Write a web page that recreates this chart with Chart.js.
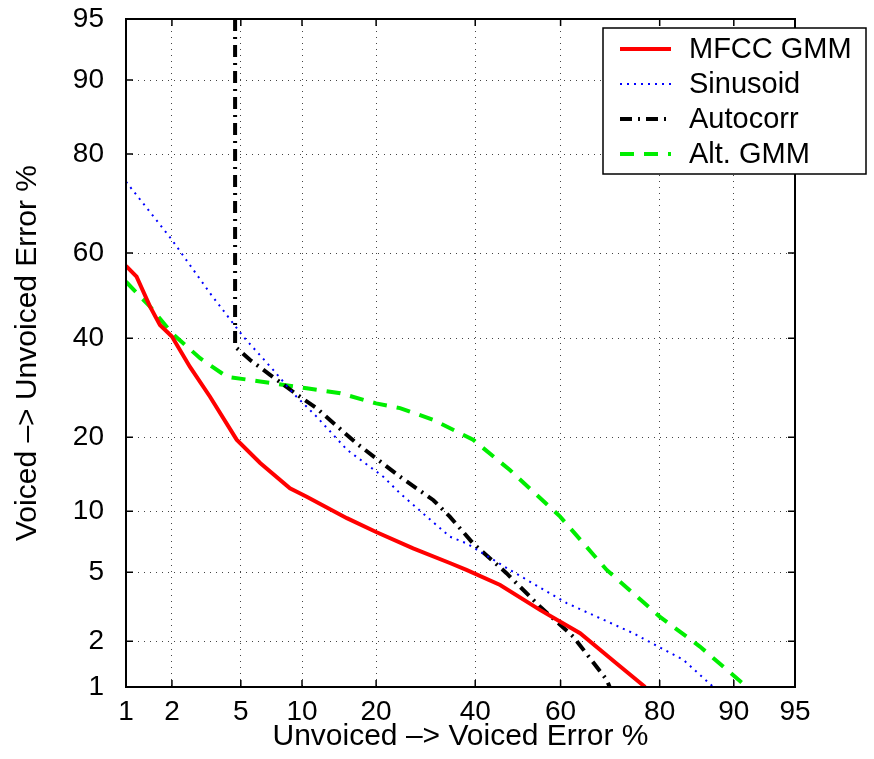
<!DOCTYPE html>
<html>
<head>
<meta charset="utf-8">
<script src="https://cdn.jsdelivr.net/npm/chart.js@4.4.1/dist/chart.umd.min.js"></script>
<style>
  body { margin: 0; background: #fff; }
  canvas { display: block; }
</style>
</head>
<body>
<canvas id="myChart" width="874" height="759"></canvas>
<script>
// error rates in percent (x: unvoiced -> voiced, y: voiced -> unvoiced)
const tickPcts = [1, 2, 5, 10, 20, 40, 60, 80, 90, 95];
const tickLabels = ["1", "2", "5", "10", "20", "40", "60", "80", "90", "95"];

const seriesNames = ["MFCC GMM", "Sinusoid", "Autocorr", "Alt. GMM"];

const mfccX = [1, 1.18, 1.45, 1.68, 2.0, 2.58, 3.38, 4.75, 6.3, 8.8, 10.5, 15.5, 20, 26.7, 34.3, 38, 45.8, 55.2, 64.4, 72.1, 77.5];
const mfccY = [57, 54.5, 47.4, 43.1, 40.4, 33.6, 27.4, 19.6, 16, 12.6, 11.6, 9.3, 8.0, 6.65, 5.6, 5.15, 4.27, 3.09, 2.24, 1.44, 1.0];

const sinX = [1, 2, 3.38, 5.15, 7.3, 9.1, 11.6, 15.5, 21.2, 24.2, 34.3, 38, 48.1, 61.4, 75.3, 83.7, 87.7];
const sinY = [75.1, 63, 50.6, 40.4, 33, 28.1, 23.6, 18, 14.1, 12, 7.6, 7.05, 5.15, 3.38, 2.24, 1.52, 1];

const autoX = [4.66, 4.66, 5.6, 7.06, 9.5, 11.6, 16.9, 24.2, 30.8, 34.3, 39.5, 47.3, 55.2, 62.9, 70.1, 70.7];
const autoY = [95, 38.1, 35.1, 31.9, 27.8, 25.2, 19, 14.1, 11.2, 9.45, 7.05, 4.95, 3.23, 2.13, 1.12, 1];

const altX = [1, 1.45, 2, 2.96, 4.2, 6.3, 10.5, 14.6, 20, 24.2, 30.8, 39.5, 48.1, 59.9, 70.1, 80, 86, 91.3];
const altY = [53.3, 47.4, 41.2, 35.5, 31.5, 30.5, 29.1, 28.1, 26.1, 25.2, 23, 19.6, 15, 9.45, 5.15, 2.82, 1.85, 1];

// inverse normal cdf (Acklam), used for the normal deviate axes
function probit(p) {
  const a = [-39.69683028665376, 220.9460984245205, -275.9285104469687, 138.357751867269, -30.66479806614716, 2.506628277459239];
  const b = [-54.47609879822406, 161.5858368580409, -155.6989798598866, 66.80131188771972, -13.28068155288572];
  const c = [-0.007784894002430293, -0.3223964580411365, -2.400758277161838, -2.549732539343734, 4.374664141464968, 2.938163982698783];
  const d = [0.007784695709041462, 0.3224671290700398, 2.445134137142996, 3.754408661907416];
  const pl = 0.02425;
  let q, r;
  if (p < pl) {
    q = Math.sqrt(-2 * Math.log(p));
    return (((((c[0] * q + c[1]) * q + c[2]) * q + c[3]) * q + c[4]) * q + c[5]) /
      ((((d[0] * q + d[1]) * q + d[2]) * q + d[3]) * q + 1);
  }
  if (p > 1 - pl) {
    q = Math.sqrt(-2 * Math.log(1 - p));
    return -(((((c[0] * q + c[1]) * q + c[2]) * q + c[3]) * q + c[4]) * q + c[5]) /
      ((((d[0] * q + d[1]) * q + d[2]) * q + d[3]) * q + 1);
  }
  q = p - 0.5;
  r = q * q;
  return (((((a[0] * r + a[1]) * r + a[2]) * r + a[3]) * r + a[4]) * r + a[5]) * q /
    (((((b[0] * r + b[1]) * r + b[2]) * r + b[3]) * r + b[4]) * r + 1);
}

const toPoints = (xs, ys) => xs.map((x, i) => ({ x: probit(x / 100), y: probit(ys[i] / 100) }));

const minZ = probit(tickPcts[0] / 100);
const maxZ = probit(tickPcts[tickPcts.length - 1] / 100);

const fontFamily = "'Liberation Sans', Arial, Helvetica, sans-serif";

// border, inner tick marks and the boxed legend
const framePlugin = {
  id: "frame",
  afterDatasetsDraw(chart) {
    const ctx = chart.ctx;
    const { left, right, top, bottom } = chart.chartArea;
    const xs = chart.scales.x;
    const ys = chart.scales.y;
    ctx.save();
    ctx.strokeStyle = "#000";
    ctx.lineWidth = 1.5;
    ctx.setLineDash([]);
    tickPcts.forEach((p) => {
      const px = xs.getPixelForValue(probit(p / 100));
      const py = ys.getPixelForValue(probit(p / 100));
      ctx.beginPath();
      ctx.moveTo(px, bottom); ctx.lineTo(px, bottom - 7);
      ctx.moveTo(px, top); ctx.lineTo(px, top + 7);
      ctx.moveTo(left, py); ctx.lineTo(left + 7, py);
      ctx.moveTo(right, py); ctx.lineTo(right - 7, py);
      ctx.stroke();
    });
    ctx.lineWidth = 2;
    ctx.strokeRect(left, top, right - left, bottom - top);
    ctx.restore();
  },
  afterDraw(chart) {
    const ctx = chart.ctx;
    const box = { x: 603, y: 28, w: 263, h: 146 };
    ctx.save();
    ctx.fillStyle = "#fff";
    ctx.fillRect(box.x, box.y, box.w, box.h);
    ctx.strokeStyle = "#000";
    ctx.lineWidth = 1.5;
    ctx.strokeRect(box.x, box.y, box.w, box.h);
    chart.data.datasets.forEach((ds, i) => {
      const y = box.y + 21 + i * 35;
      ctx.beginPath();
      ctx.strokeStyle = ds.borderColor;
      ctx.lineWidth = ds.borderWidth;
      ctx.setLineDash(ds.borderDash || []);
      ctx.moveTo(620, y);
      ctx.lineTo(671, y);
      ctx.stroke();
      ctx.setLineDash([]);
      ctx.fillStyle = "#000";
      ctx.font = "29px " + fontFamily;
      ctx.textBaseline = "middle";
      ctx.fillText(ds.label, 689, y + 1);
    });
    ctx.restore();
  },
};

const element = document.getElementById("myChart");
new Chart(element, {
  type: "scatter",
  data: {
    datasets: [
      {
        label: seriesNames[0],
        data: toPoints(mfccX, mfccY),
        borderColor: "#ff0000",
        borderWidth: 4,
      },
      {
        label: seriesNames[1],
        data: toPoints(sinX, sinY),
        borderColor: "#0000ff",
        borderWidth: 2,
        borderDash: [2, 5],
      },
      {
        label: seriesNames[2],
        data: toPoints(autoX, autoY),
        borderColor: "#000000",
        borderWidth: 4,
        borderDash: [12, 6, 2, 6],
      },
      {
        label: seriesNames[3],
        data: toPoints(altX, altY),
        borderColor: "#00ee00",
        borderWidth: 4,
        borderDash: [14, 10],
      },
    ].map((ds) => ({ ...ds, showLine: true, pointRadius: 0, tension: 0, fill: false })),
  },
  options: {
    responsive: false,
    animation: false,
    layout: { padding: { top: 19, right: 79, left: 0, bottom: 0 } },
    plugins: {
      legend: { display: false },
      tooltip: { enabled: false },
    },
    scales: {
      x: {
        type: "linear",
        min: minZ,
        max: maxZ,
        afterBuildTicks: (scale) => {
          scale.ticks = tickPcts.map((p) => ({ value: probit(p / 100) }));
        },
        afterFit: (scale) => {
          scale.height = 72;
          scale.paddingLeft = 0;
          scale.paddingRight = 0;
        },
        grid: { color: "#444", lineWidth: 1, drawTicks: false },
        border: { display: false, dash: [1, 5] },
        ticks: {
          autoSkip: false,
          maxRotation: 0,
          padding: 8,
          color: "#000",
          font: { family: fontFamily, size: 28 },
          callback: (value, index) => tickLabels[index],
        },
        title: {
          display: true,
          text: "Unvoiced –> Voiced Error %",
          color: "#000",
          font: { family: fontFamily, size: 30 },
          padding: { top: -1 },
        },
      },
      y: {
        type: "linear",
        min: minZ,
        max: maxZ,
        afterBuildTicks: (scale) => {
          scale.ticks = tickPcts.map((p) => ({ value: probit(p / 100) }));
        },
        afterFit: (scale) => {
          scale.width = 126;
          scale.paddingTop = 0;
          scale.paddingBottom = 0;
        },
        grid: { color: "#444", lineWidth: 1, drawTicks: false },
        border: { display: false, dash: [1, 5] },
        ticks: {
          autoSkip: false,
          padding: 22,
          color: "#000",
          font: { family: fontFamily, size: 28 },
          callback: (value, index) => tickLabels[index],
        },
        title: {
          display: true,
          text: "Voiced –> Unvoiced Error %",
          color: "#000",
          font: { family: fontFamily, size: 30 },
          padding: { top: 10 },
        },
      },
    },
  },
  plugins: [framePlugin],
});
</script>
</body>
</html>
